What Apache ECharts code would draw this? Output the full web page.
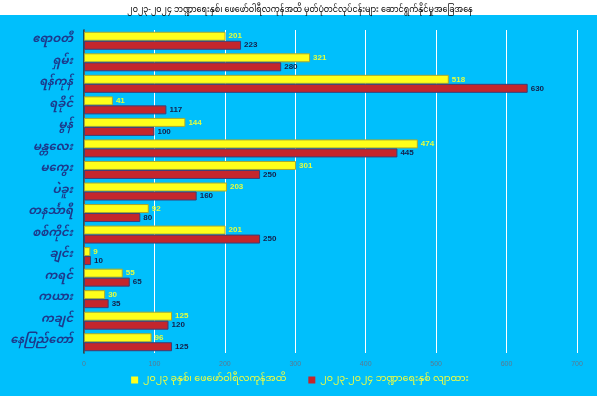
<!DOCTYPE html>
<html>
<head>
<meta charset="utf-8">
<script src="https://cdn.jsdelivr.net/npm/echarts@6/dist/echarts.min.js"></script>
<style>
  html, body { margin: 0; padding: 0; background: #fff; }
  #chart { width: 600px; height: 399px; }
</style>
</head>
<body>
<div id="chart"></div>
<script>
  // တိုင်းဒေသကြီး/ပြည်နယ် (top to bottom)
  var regions = ['ဧရာဝတီ', 'ရှမ်း', 'ရန်ကုန်', 'ရခိုင်', 'မွန်', 'မန္တလေး', 'မကွေး', 'ပဲခူး',
    'တနင်္သာရီ', 'စစ်ကိုင်း', 'ချင်း', 'ကရင်', 'ကယား', 'ကချင်', 'နေပြည်တော်'];
  var actualToFeb = [201, 321, 518, 41, 144, 474, 301, 203, 92, 201, 9, 55, 30, 125, 96];
  var planned = [223, 280, 630, 117, 100, 445, 250, 160, 80, 250, 10, 65, 35, 120, 125];
  var xTicks = [0, 100, 200, 300, 400, 500, 600, 700];

  var seriesNames = ['၂၀၂၃ ခုနှစ်၊ ဖေဖော်ဝါရီလကုန်အထိ', '၂၀၂၃-၂၀၂၄ ဘဏ္ဍာရေးနှစ် လျာထား'];
  var myFont = '"Noto Sans Myanmar", "Padauk", "Myanmar Text", "Noto Sans", sans-serif';

  var chart = echarts.init(document.getElementById('chart'));
  chart.setOption({
    animation: false,
    title: {
      text: '၂၀၂၃-၂၀၂၄ ဘဏ္ဍာရေးနှစ်၊ ဖေဖော်ဝါရီလကုန်အထိ မှတ်ပုံတင်လုပ်ငန်းများ ဆောင်ရွက်နိုင်မှုအခြေအနေ',
      left: 'center',
      top: 2,
      textStyle: { fontSize: 8, fontWeight: 'normal', color: '#000', fontFamily: myFont }
    },
    graphic: [{
      type: 'rect',
      z: -10,
      silent: true,
      shape: { x: 0, y: 15, width: 597, height: 381 },
      style: { fill: '#00BFFC' }
    }],
    legend: {
      bottom: 9,
      left: 'center',
      itemWidth: 7,
      itemHeight: 7,
      itemGap: 22,
      icon: 'rect',
      itemStyle: { borderWidth: 0 },
      textStyle: { color: '#F4FF3A', fontSize: 9.5, fontFamily: myFont },
      data: seriesNames
    },
    grid: { left: 84, right: 23, top: 30, bottom: 46 },
    xAxis: {
      type: 'value',
      min: xTicks[0],
      max: xTicks[xTicks.length - 1],
      interval: 100,
      axisLine: { show: false },
      axisTick: { show: false },
      axisLabel: { color: '#5a7a90', fontSize: 7, margin: 8 },
      splitLine: { lineStyle: { color: '#ffffff', width: 1 } }
    },
    yAxis: {
      type: 'category',
      inverse: true,
      data: regions,
      axisLine: { show: true, lineStyle: { color: '#2a2a2a', width: 1.5 } },
      axisTick: { show: false },
      axisLabel: {
        color: '#1C3A8C', fontSize: 11.5, fontWeight: 'bold', fontStyle: 'italic',
        margin: 11, fontFamily: myFont
      }
    },
    series: [
      {
        name: seriesNames[0],
        type: 'bar',
        data: actualToFeb,
        barWidth: 9,
        barGap: '0%',
        itemStyle: { color: '#FFFF1A', borderColor: '#A8A830', borderWidth: 1 },
        label: {
          show: true, position: 'right', distance: 3,
          color: '#E4FF3C', fontSize: 8, fontWeight: 'bold'
        }
      },
      {
        name: seriesNames[1],
        type: 'bar',
        data: planned,
        barWidth: 9,
        itemStyle: { color: '#C4262C', borderColor: '#3A3F78', borderWidth: 1 },
        label: {
          show: true, position: 'right', distance: 3,
          color: '#14204A', fontSize: 8, fontWeight: 'bold'
        }
      }
    ]
  });
</script>
</body>
</html>
